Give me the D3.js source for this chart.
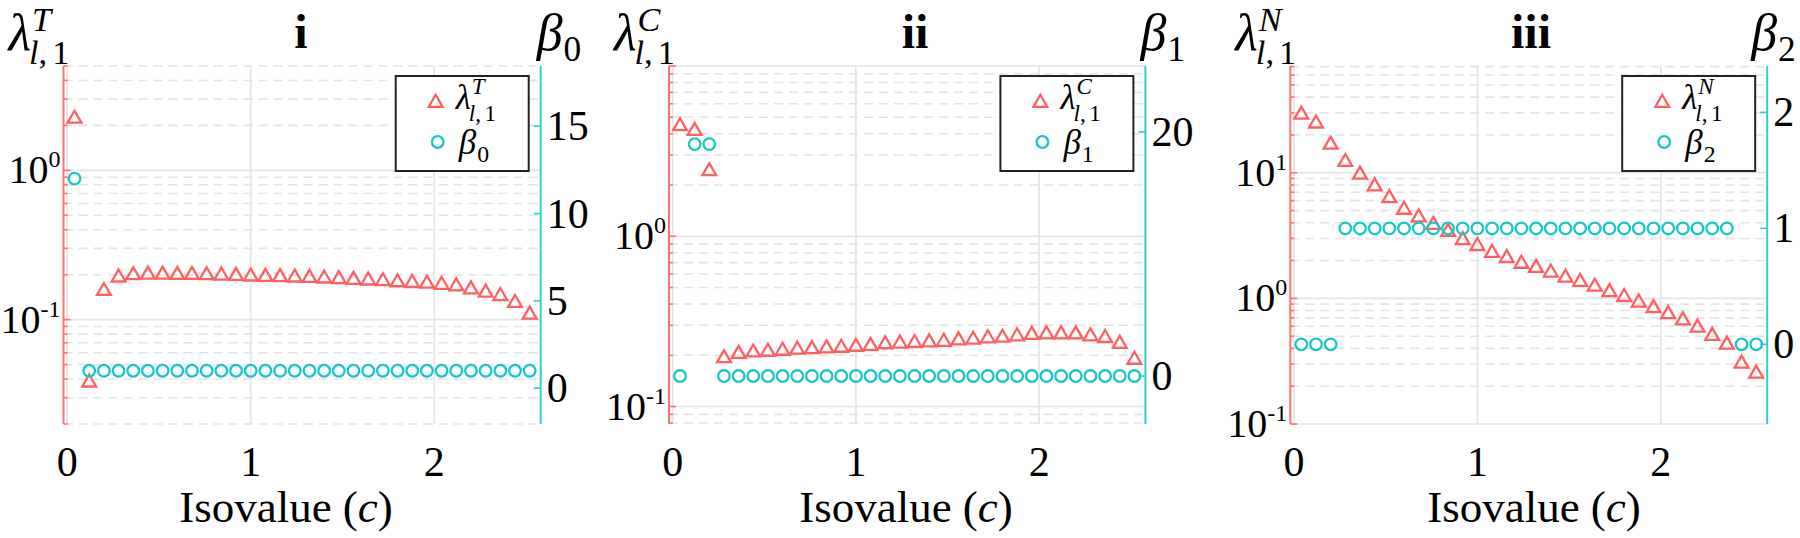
<!DOCTYPE html>
<html><head><meta charset="utf-8">
<script src="https://cdn.jsdelivr.net/npm/d3@7"></script>
<style>
body{margin:0;background:#fff;}
text{font-family:"Liberation Serif","Times New Roman",serif;fill:#000;}
</style></head><body>
<svg id="chart" width="1800" height="538"></svg>
<script>
// ---------------- data ----------------
const isovalues = [0.04,0.12,0.20,0.28,0.36,0.44,0.52,0.60,0.68,0.76,0.84,0.92,1.00,1.08,1.16,1.24,
                   1.32,1.40,1.48,1.56,1.64,1.72,1.80,1.88,1.96,2.04,2.12,2.20,2.28,2.36,2.44,2.52];
const lambdaT = [2.28,0.039,0.160,0.197,0.204,0.206,0.206,0.205,0.205,0.204,0.203,0.202,0.200,0.199,0.198,0.197,
                 0.196,0.194,0.192,0.190,0.188,0.186,0.183,0.181,0.179,0.176,0.172,0.164,0.156,0.148,0.133,0.111];
const beta0   = [12,1,1,1,1,1,1,1,1,1,1,1,1,1,1,1,1,1,1,1,1,1,1,1,1,1,1,1,1,1,1,1];
const lambdaC = [4.54,4.26,2.47,0.197,0.209,0.213,0.215,0.218,0.221,0.223,0.225,0.227,0.230,0.233,0.238,0.240,
                 0.242,0.244,0.246,0.251,0.253,0.258,0.260,0.265,0.270,0.272,0.272,0.272,0.265,0.259,0.239,0.193];
const beta1   = [0,19,19,0,0,0,0,0,0,0,0,0,0,0,0,0,0,0,0,0,0,0,0,0,0,0,0,0,0,0,0,0];
const lambdaN = [30.0,25.5,17.3,12.6,10.0,8.05,6.49,5.25,4.56,3.98,3.50,3.01,2.70,2.38,2.16,1.95,
                 1.81,1.66,1.51,1.40,1.28,1.16,1.06,0.958,0.865,0.775,0.69,0.605,0.52,0.443,0.313,0.26];
const beta2   = [0,0,0,1,1,1,1,1,1,1,1,1,1,1,1,1,1,1,1,1,1,1,1,1,1,1,1,1,1,1,0,0];

const xTickValues = [0,1,2];
const panelTitles = ["i","ii","iii"];
const lambdaSup = ["T","C","N"];
const betaSub = ["0","1","2"];
const logTickValues = [[0.1,1],[0.1,1],[0.1,1,10]];
const betaTickValues = [[0,5,10,15],[0,20],[0,1,2]];
const lambdaDomains = [[0.02,5],[0.079,10],[0.1,70.8]];
const betaDomains = [[-2.05,18.45],[-3.93,25.4],[-0.687,2.40]];
const xDomain = [-0.02, 2.58];

// ---------------- layout / style ----------------
const TOP = 66, BOTTOM = 424;
const layout = [
  {left:63.5,  right:540.7,  titleX:301,  xlabX:286,  betaDx:-4},
  {left:669,   right:1145.4, titleX:915,  xlabX:906,  betaDx:-5},
  {left:1290.3,right:1767.2, titleX:1531, xlabX:1534, betaDx:-16}
];
const RED = "#ff5f5f", CYAN = "#17c6c6", RED_AXIS="#ff7373", CYAN_AXIS="#33cdcd";
const GRID = "#e4e4e4";
const TICK_FS = 42, LTICK_FS = 40, TITLE_FS = 48, LAB_FS = 52, XLAB_FS = 45, LEG_FS = 35;

const svg = d3.select("#chart");
svg.append("rect").attr("width",1800).attr("height",538).attr("fill","#fff");

const series = [[lambdaT,beta0],[lambdaC,beta1],[lambdaN,beta2]];

// λ^{sup}_{l,1} as one text element
function lambdaLabel(g, x, y, sup, size, raise, drop){
  const s = size*0.66;
  const t = g.append("text").attr("x",x).attr("y",y).attr("font-size",size);
  t.append("tspan").attr("font-style","italic").text("λ");
  const supT = t.append("tspan").attr("font-style","italic").attr("font-size",s)
     .attr("dx",1).attr("dy",-size*raise).text(sup);
  const w = supT.node().getComputedTextLength();
  t.append("tspan").attr("font-style","italic").attr("font-size",s)
     .attr("dx",-w-3).attr("dy",size*(raise+drop)).text("l");
  t.append("tspan").attr("font-size",s).text(",");
  t.append("tspan").attr("font-size",s).attr("dx",s*0.15).text("1");
}
function betaLabel(g, x, y, sub, size){
  const t = g.append("text").attr("x",x).attr("y",y).attr("font-size",size);
  t.append("tspan").attr("font-style","italic").text("β");
  t.append("tspan").attr("font-size",size*0.68).attr("dx",1).attr("dy",size*0.22).text(sub);
}
const triPath = "M0,-6.2L6.9,5.8L-6.9,5.8Z";

layout.forEach((L, i) => {
  const g = svg.append("g");
  const x = d3.scaleLinear().domain(xDomain).range([L.left, L.right]);
  const yl = d3.scaleLog().domain(lambdaDomains[i]).range([BOTTOM, TOP]);
  const yr = d3.scaleLinear().domain(betaDomains[i]).range([BOTTOM, TOP]);
  const [lam, bet] = series[i];

  const dom = lambdaDomains[i];
  const minor = [], major = [];
  for (let d = Math.floor(Math.log10(dom[0])); d <= Math.ceil(Math.log10(dom[1])); d++){
    for (let k = 1; k <= 9; k++){
      const v = k*Math.pow(10,d);
      if (v >= dom[0]*0.999 && v <= dom[1]*1.001){ (k===1?major:minor).push(v); }
    }
  }
  // grid
  g.selectAll(".mg").data(minor).enter().append("line")
    .attr("x1",L.left).attr("x2",L.right).attr("y1",d=>yl(d)).attr("y2",d=>yl(d))
    .attr("stroke",GRID).attr("stroke-width",1.6).attr("stroke-dasharray","9,6");
  g.selectAll(".Mg").data(major).enter().append("line")
    .attr("x1",L.left).attr("x2",L.right).attr("y1",d=>yl(d)).attr("y2",d=>yl(d))
    .attr("stroke",GRID).attr("stroke-width",1.6);
  g.selectAll(".vg").data(xTickValues).enter().append("line")
    .attr("x1",d=>x(d)).attr("x2",d=>x(d)).attr("y1",TOP).attr("y2",BOTTOM)
    .attr("stroke",GRID).attr("stroke-width",1.6);

  // left axis
  g.append("line").attr("x1",L.left).attr("x2",L.left).attr("y1",TOP).attr("y2",BOTTOM)
    .attr("stroke",RED_AXIS).attr("stroke-width",2);
  g.selectAll(".lt").data(minor).enter().append("line")
    .attr("x1",L.left).attr("x2",L.left+4).attr("y1",d=>yl(d)).attr("y2",d=>yl(d))
    .attr("stroke",RED_AXIS).attr("stroke-width",1.6);
  g.selectAll(".lT").data(major).enter().append("line")
    .attr("x1",L.left).attr("x2",L.left+7).attr("y1",d=>yl(d)).attr("y2",d=>yl(d))
    .attr("stroke",RED_AXIS).attr("stroke-width",1.6);
  logTickValues[i].forEach(v => {
    const t = g.append("text").attr("x",L.left-3).attr("y",yl(v)+13).attr("text-anchor","end")
      .attr("font-size",LTICK_FS).text("10");
    t.append("tspan").attr("dy",-16).attr("font-size",LTICK_FS*0.6).text(String(Math.round(Math.log10(v))));
  });

  // right axis
  g.append("line").attr("x1",L.right).attr("x2",L.right).attr("y1",TOP).attr("y2",BOTTOM)
    .attr("stroke",CYAN_AXIS).attr("stroke-width",2);
  g.selectAll(".rt").data(betaTickValues[i]).enter().append("line")
    .attr("x1",L.right).attr("x2",L.right-7).attr("y1",d=>yr(d)).attr("y2",d=>yr(d))
    .attr("stroke",CYAN_AXIS).attr("stroke-width",1.6);
  g.selectAll(".rl").data(betaTickValues[i]).enter().append("text")
    .attr("x",L.right+6).attr("y",d=>yr(d)+14).attr("font-size",TICK_FS).text(d=>d);

  // x tick labels & label
  g.selectAll(".xl").data(xTickValues).enter().append("text")
    .attr("x",d=>x(d)).attr("y",476).attr("text-anchor","middle").attr("font-size",TICK_FS).text(d=>d);
  const xl = g.append("text").attr("x",L.xlabX).attr("y",522).attr("text-anchor","middle")
    .attr("font-size",XLAB_FS).text("Isovalue (");
  xl.append("tspan").attr("font-style","italic").text("c");
  xl.append("tspan").text(")");

  // titles and axis labels
  g.append("text").attr("x",L.titleX).attr("y",48).attr("text-anchor","middle")
    .attr("font-size",TITLE_FS).attr("font-weight","bold").text(panelTitles[i]);
  lambdaLabel(g, L.left-55, 50, lambdaSup[i], LAB_FS, 0.37, 0.26);
  betaLabel(g, L.right+L.betaDx, 50, betaSub[i], LAB_FS);

  // markers
  g.selectAll(".tri").data(isovalues).enter().append("path")
    .attr("d",triPath).attr("transform",(d,j)=>`translate(${x(d)},${yl(lam[j])})`)
    .attr("fill","none").attr("stroke",RED).attr("stroke-width",2.3);
  g.selectAll(".cir").data(isovalues).enter().append("circle")
    .attr("cx",d=>x(d)).attr("cy",(d,j)=>yr(bet[j])).attr("r",5.8)
    .attr("fill","none").attr("stroke",CYAN).attr("stroke-width",2.3);

  // legend
  const lx = L.right-145, ly = 76, lw = 133, lh = 95;
  g.append("rect").attr("x",lx).attr("y",ly).attr("width",lw).attr("height",lh)
    .attr("fill","#fff").attr("stroke","#222").attr("stroke-width",2);
  g.append("path").attr("d",triPath).attr("transform",`translate(${lx+40},${ly+25})`)
    .attr("fill","none").attr("stroke",RED).attr("stroke-width",2.3);
  g.append("circle").attr("cx",lx+42).attr("cy",ly+66).attr("r",5.8)
    .attr("fill","none").attr("stroke",CYAN).attr("stroke-width",2.3);
  lambdaLabel(g, lx+60, ly+33, lambdaSup[i], LEG_FS, 0.44, 0.34);
  betaLabel(g, lx+63, ly+78, betaSub[i], LEG_FS);
});
</script>
</body></html>
